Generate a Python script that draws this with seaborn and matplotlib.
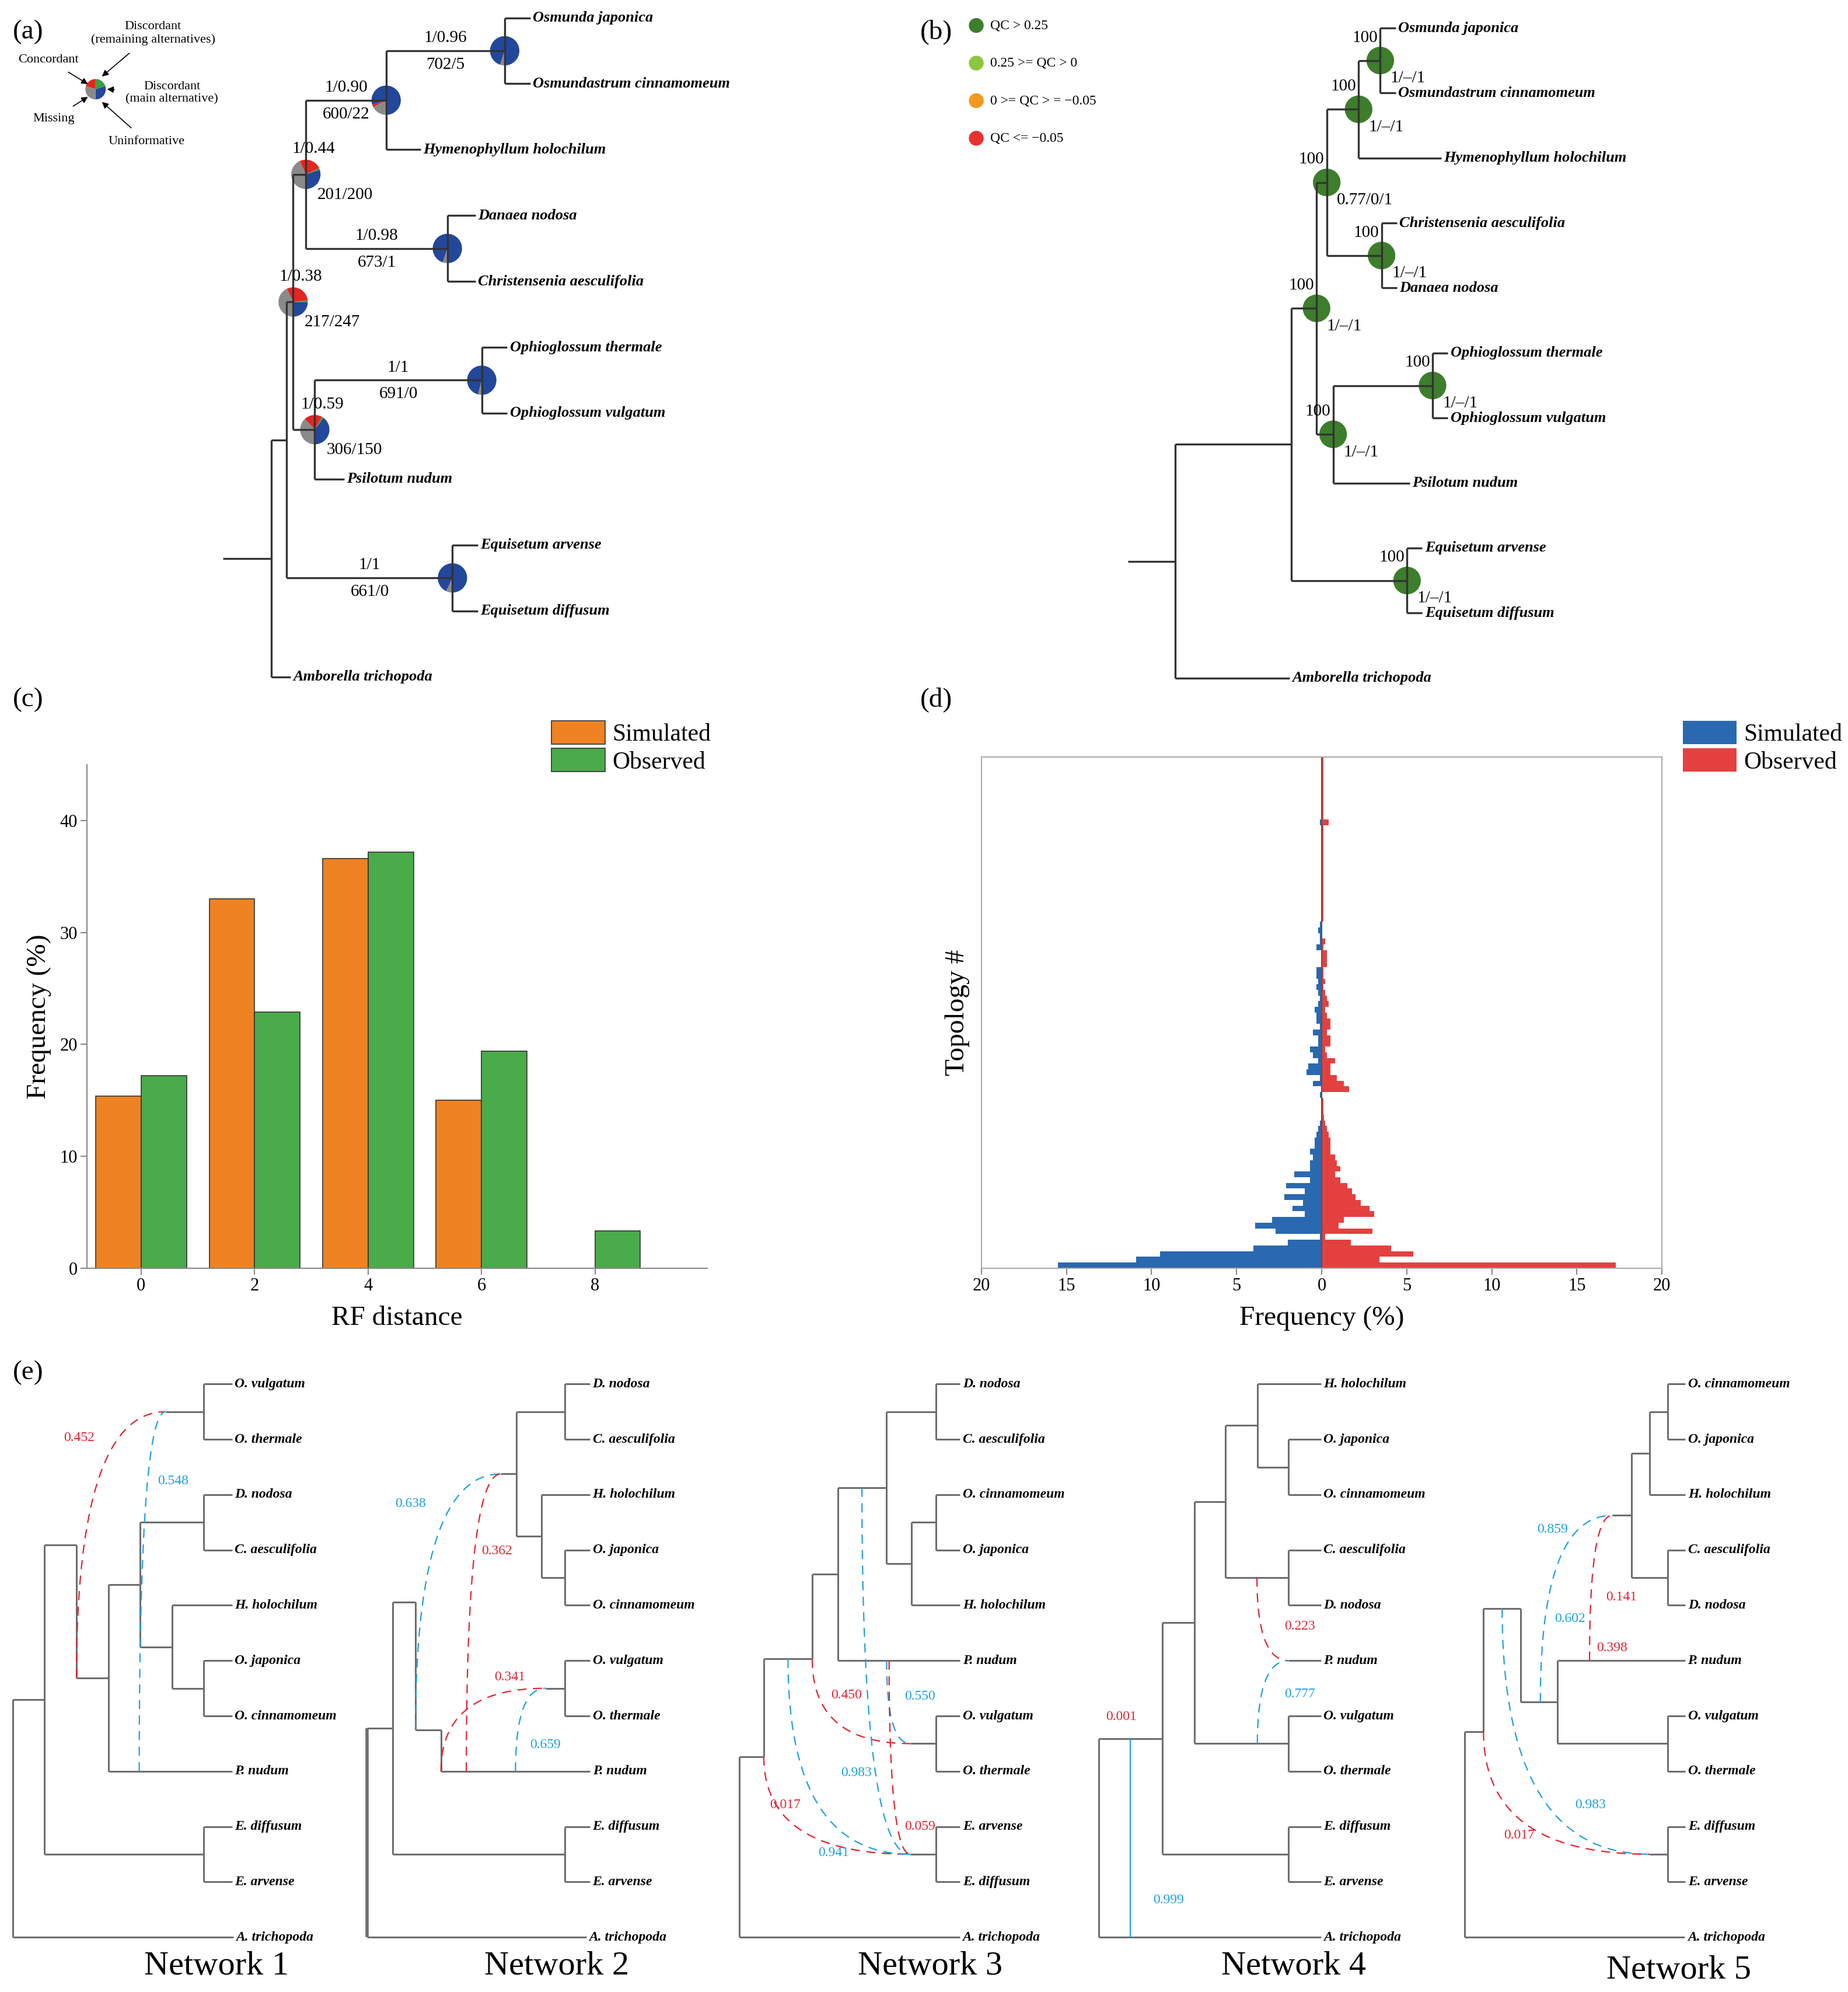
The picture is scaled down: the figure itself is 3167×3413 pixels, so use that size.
import numpy as np
import pandas as pd
import matplotlib
matplotlib.use("Agg")
import matplotlib.pyplot as plt
from matplotlib.patches import Wedge, Circle
import seaborn as sns

plt.rcParams["font.family"] = "Liberation Serif"

# ---------------- DATA ----------------
# (c) RF distance distribution
RF_DIST = ["0", "2", "4", "6", "8"]
RF_SIM = [15.4, 33.0, 36.6, 15.0, 0.0]
RF_OBS = [17.2, 22.9, 37.2, 19.4, 3.3]

# (d) topology frequencies (%), topology #1 at bottom
TOPO_SIM = [15.5, 10.9, 9.5, 4.0, 2.0, 0.1, 2.7, 3.9, 2.9, 1.0,
            1.7, 1.1, 2.2, 1.0, 2.1, 0.7, 1.6, 0.7, 0.7, 0.5,
            0.7, 0.4, 0.4, 0.3, 0.2, 0.1, 0, 0, 0, 0,
            0.1, 0, 0.5, 0.1, 0.9, 0.8, 0.2, 0.5, 0.7, 0.2,
            0.2, 0.5, 0.1, 0.3, 0.3, 0.4, 0.2, 0.1, 0.2, 0.3,
            0.2, 0.3, 0.3, 0, 0, 0, 0.3, 0.1, 0.1, 0.2,
            0.1, 0, 0, 0, 0, 0, 0, 0, 0, 0,
            0, 0, 0, 0, 0, 0, 0, 0, 0.1, 0,
            0, 0, 0, 0, 0, 0, 0, 0, 0, 0]
TOPO_OBS = [17.3, 3.4, 5.4, 4.1, 1.7, 0.2, 3.0, 1.0, 1.3, 3.1,
            2.8, 2.3, 2.0, 1.8, 1.5, 1.1, 0.8, 1.1, 0.9, 0.8,
            0.5, 0.5, 0.5, 0.4, 0.3, 0.2, 0.15, 0.1, 0.1, 0.1,
            0, 1.6, 1.3, 0.9, 0.5, 0.5, 0.8, 0.3, 0.2, 0.5,
            0.5, 0.3, 0.5, 0.5, 0.3, 0.2, 0.4, 0.3, 0.2, 0.1,
            0.2, 0.1, 0.1, 0.3, 0.3, 0.3, 0.1, 0.2, 0, 0,
            0, 0.1, 0.1, 0.1, 0.1, 0.1, 0.1, 0.1, 0.1, 0.1,
            0.1, 0.1, 0.1, 0.1, 0.1, 0.1, 0.1, 0.1, 0.4, 0.1,
            0.1, 0.1, 0.1, 0.1, 0.1, 0.1, 0.1, 0.1, 0.1, 0.1]
D_TICKS = [-20, -15, -10, -5, 0, 5, 10, 15, 20]

# (a) species tree with branch lengths (name, length, children)
TREE_A = ("rootA", 0, [
    ("A", 12, [
        ("B", 5, [
            ("C", 10, [
                ("E", 63, [
                    ("Osm", 93, [("Osmunda japonica", 20, None), ("Osmundastrum cinnamomeum", 20, None)]),
                    ("Hymenophyllum holochilum", 27, None)]),
                ("Mar", 111, [("Danaea nodosa", 22, None), ("Christensenia aesculifolia", 22, None)])]),
            ("D", 17, [
                ("Oph", 131, [("Ophioglossum thermale", 20, None), ("Ophioglossum vulgatum", 20, None)]),
                ("Psilotum nudum", 23, None)])]),
        ("Equ", 130, [("Equisetum arvense", 20, None), ("Equisetum diffusum", 20, None)])]),
    ("Amborella trichopoda", 15, None)])
SUPPORT_A = {"Osm": ("1/0.96", "702/5"), "E": ("1/0.90", "600/22"), "C": ("1/0.44", "201/200"),
             "Mar": ("1/0.98", "673/1"), "B": ("1/0.38", "217/247"), "Oph": ("1/1", "691/0"),
             "D": ("1/0.59", "306/150"), "Equ": ("1/1", "661/0")}
# pie fractions: concordant, discordant main, discordant remaining, uninformative
PIE_A = {"Osm": [0.95, 0.0, 0.0, 0.05], "E": [0.80, 0.0, 0.03, 0.17], "C": [0.30, 0.02, 0.25, 0.43],
         "Mar": [0.95, 0.0, 0.0, 0.05], "B": [0.25, 0.02, 0.30, 0.43], "Oph": [0.96, 0.0, 0.0, 0.04],
         "D": [0.40, 0.02, 0.20, 0.38], "Equ": [0.93, 0.0, 0.0, 0.07]}
PIE_LEGEND = [0.30, 0.20, 0.20, 0.30]

# (b) species tree
TREE_B = ("rootB", 0, [
    ("A", 91, [
        ("B", 20, [
            ("C", 8, [
                ("E", 25, [
                    ("Osm", 17, [("Osmunda japonica", 12, None), ("Osmundastrum cinnamomeum", 12, None)]),
                    ("Hymenophyllum holochilum", 65, None)]),
                ("Mar", 43, [("Christensenia aesculifolia", 12, None), ("Danaea nodosa", 12, None)])]),
            ("D", 13, [
                ("Oph", 78, [("Ophioglossum thermale", 12, None), ("Ophioglossum vulgatum", 12, None)]),
                ("Psilotum nudum", 60, None)])]),
        ("Equ", 91, [("Equisetum arvense", 12, None), ("Equisetum diffusum", 12, None)])]),
    ("Amborella trichopoda", 90, None)])
SUPPORT_B = {"Osm": ("100", "1/\u2013/1"), "E": ("100", "1/\u2013/1"), "C": ("100", "0.77/0/1"),
             "Mar": ("100", "1/\u2013/1"), "B": ("100", "1/\u2013/1"), "Oph": ("100", "1/\u2013/1"),
             "D": ("100", "1/\u2013/1"), "Equ": ("100", "1/\u2013/1")}
QC_LABELS = ["QC > 0.25", "0.25 >= QC > 0", "0 >= QC > = \u22120.05", "QC <= \u22120.05"]

# (e) networks
NET1 = ("r", 0, [("N", 25, [("P", 25, [("Oph", 100, [("O. vulgatum", 22, None), ("O. thermale", 22, None)]),
    ("Q", 25, [("R", 25, [("DC", 50, [("D. nodosa", 22, None), ("C. aesculifolia", 22, None)]),
        ("S", 25, [("H. holochilum", 47, None), ("JC", 25, [("O. japonica", 22, None), ("O. cinnamomeum", 22, None)])])]),
        ("P. nudum", 97, None)])]),
    ("Equ", 125, [("E. diffusum", 22, None), ("E. arvense", 22, None)])]), ("A. trichopoda", 173, None)])
NET1_HYB = {"Oph": 30}
NET1_RET = [("Q", 0.0, "Oph", "r", "0.452"), ("P. nudum", 0.25, "Oph", "b", "0.548")]

NET2 = ("r", 0, [("N", 20, [("P", 18, [("M", 79, [("DC", 38, [("D. nodosa", 20, None), ("C. aesculifolia", 20, None)]),
    ("HJC", 20, [("H. holochilum", 38, None), ("JC", 18, [("O. japonica", 20, None), ("O. cinnamomeum", 20, None)])])]),
    ("Q", 20, [("Oph", 97, [("O. vulgatum", 20, None), ("O. thermale", 20, None)]), ("P. nudum", 117, None)])]),
    ("Equ", 135, [("E. diffusum", 20, None), ("E. arvense", 20, None)])]), ("A. trichopoda", 172, None)])
NET2_HYB = {"M": 12, "Oph": 15}
NET2_RET = [("Q", 0.0, "M", "b", "0.638"), ("P. nudum", 0.17, "M", "r", "0.362"),
            ("P. nudum", 0.0, "Oph", "r", "0.341"), ("P. nudum", 0.5, "Oph", "b", "0.659")]

NET3 = ("r", 0, [("N", 19, [("P", 38, [("Q", 20, [("R", 38, [("DC", 39, [("D. nodosa", 19, None), ("C. aesculifolia", 19, None)]),
    ("S", 20, [("CJ", 19, [("O. cinnamomeum", 19, None), ("O. japonica", 19, None)]), ("H. holochilum", 38, None)])]),
    ("P. nudum", 96, None)]), ("Oph", 97, [("O. vulgatum", 19, None), ("O. thermale", 19, None)])]),
    ("Equ", 135, [("E. arvense", 19, None), ("E. diffusum", 19, None)])]), ("A. trichopoda", 173, None)])
NET3_HYB = {"Oph": 20, "Equ": 20}
NET3_RET = [("P", 1.0, "Oph", "r", "0.450"), ("P. nudum", 0.4, "Oph", "b", "0.550"),
            ("R", 0.5, "Equ", "b", "0.983"), ("N", 1.0, "Equ", "r", "0.017"),
            ("P. nudum", 0.42, "Equ", "r", "0.059"), ("P", 0.5, "Equ", "b", "0.941")]

NET4 = ("r", 0, [("N", 50, [("P", 25, [("M", 24.5, [("K", 25, [("H. holochilum", 50, None),
    ("JC", 24.5, [("O. japonica", 25.5, None), ("O. cinnamomeum", 25.5, None)])]),
    ("DC", 49.5, [("C. aesculifolia", 25.5, None), ("D. nodosa", 25.5, None)])]),
    ("P. nudum", 99.5, None), ("Oph", 74, [("O. vulgatum", 25.5, None), ("O. thermale", 25.5, None)])]),
    ("Equ", 99, [("E. diffusum", 25.5, None), ("E. arvense", 25.5, None)])]), ("A. trichopoda", 174.5, None)])
NET4_HYB = {"P. nudum": 25.5}
NET4_RET = [("DC", 0.5, "P. nudum", "r", "0.223"), ("Oph", 0.67, "P. nudum", "b", "0.777"),
            ("N", 0.5, "A. trichopoda", "b", "0.999")]
NET4_EXTRA = ["0.001"]

NET5 = ("r", 0, [("N", 15, [("P", 29.3, [("M", 86.7, [("K", 14.4, [("CJ", 14, [("O. cinnamomeum", 14, None),
    ("O. japonica", 14, None)]), ("H. holochilum", 28, None)]),
    ("DC", 28.4, [("C. aesculifolia", 14, None), ("D. nodosa", 14, None)])]),
    ("Q", 28.9, [("P. nudum", 100, None), ("Oph", 86.2, [("O. vulgatum", 14, None), ("O. thermale", 14, None)])])]),
    ("Equ", 144.4, [("E. diffusum", 14, None), ("E. arvense", 14, None)])]), ("A. trichopoda", 173, None)])
NET5_HYB = {"M": 15, "Equ": 14}
NET5_RET = [("Q", 0.53, "M", "b", "0.859"), ("P. nudum", 0.25, "M", "r", "0.141"),
            ("P", 0.5, "Equ", "b", "0.983"), ("N", 1.0, "Equ", "r", "0.017")]
NET5_EXTRA = ["0.602", "0.398"]

# ---------------- STYLE / LAYOUT ----------------
W, H = 1450, 1563
RED, BLUE = "#e8212f", "#1ea0e6"
PIE_COLS = ["#23479a", "#3aa040", "#e52521", "#8a8a8a"]
QC_COLS = ["#3d7d2c", "#8cc63f", "#f39a1e", "#e8312f"]

fig = plt.figure(figsize=(31.67, 34.13), dpi=100)
ax0 = fig.add_axes([0, 0, 1, 1])
ax0.set_xlim(0, W); ax0.set_ylim(H, 0); ax0.axis("off")


def layout(tree, x0, y0, dy):
    pos, par, kids = {}, {}, {}
    cnt = [0]

    def rec(node, px, p):
        name, ln, ch = node
        x = px + ln
        if ch is None:
            y = y0 + cnt[0] * dy
            cnt[0] += 1
        else:
            ys = [rec(c, x, name) for c in ch]
            kids[name] = [c[0] for c in ch]
            y = (ys[0] + ys[-1]) / 2
        pos[name] = (x, y)
        par[name] = p
        return y
    rec(tree, x0, None)
    return pos, par, kids


def draw_tree(tree, x0, y0, dy, hidden=None, color="#333", lw=2.4, fs=20, stem=0, root_lw=None):
    hidden = hidden or {}
    pos, par, kids = layout(tree, x0, y0, dy)
    for n, (x, y) in pos.items():
        p = par[n]
        if p is None:
            if stem:
                ax0.plot([x - stem, x], [y, y], color=color, lw=lw, solid_capstyle="butt")
            continue
        px = pos[p][0]
        start = x - hidden[n] if n in hidden else px
        ax0.plot([start, x], [y, y], color=color, lw=lw, solid_capstyle="butt")
    for n, ch in kids.items():
        ys = [pos[c][1] for c in ch if c not in hidden] + [pos[n][1]]
        w = root_lw if (par[n] is None and root_lw) else lw
        ax0.plot([pos[n][0]] * 2, [min(ys), max(ys)], color=color, lw=w, solid_capstyle="butt")
        for c in ch:
            if c not in kids:
                cx, cy = pos[c]
                ax0.text(cx + 2, cy, c, fontsize=fs, style="italic", weight="bold",
                         ha="left", va="center")
    return pos, par


def stem_pt(pos, par, n, t):
    px = pos[par[n]][0]
    x, y = pos[n]
    return px + t * (x - px), y


def pie(cx, cy, r, fr):
    ang = 90
    for f, c in zip(fr, PIE_COLS):
        if f <= 0:
            continue
        ax0.add_patch(Wedge((cx, cy), r, ang - f * 360, ang, facecolor=c, edgecolor="none"))
        ang -= f * 360

# ---------------- (a) ----------------
pos, par = draw_tree(TREE_A, 213, 14, 51.7, stem=38, fs=19)
for n, (t, b) in SUPPORT_A.items():
    x, y = pos[n]
    px = pos[par[n]][0]
    if x - px < 30:
        ax0.text(x - 11, y - 14, t, fontsize=21, ha="left", va="bottom")
        ax0.text(x + 9, y + 10, b, fontsize=21, ha="left", va="top")
    else:
        ax0.text((x + px) / 2, y - 4, t, fontsize=21, ha="center", va="bottom")
        ax0.text((x + px) / 2, y + 5, b, fontsize=21, ha="center", va="top")
    pie(x, y, 11.5, PIE_A[n])
pie(75, 70, 8, PIE_LEGEND)
for txt, tx, ty, ax_, ay in [("Discordant\n(remaining alternatives)", 120, 26, 80, 60),
                             ("Concordant", 38, 47, 69, 66),
                             ("Discordant\n(main alternative)", 135, 73, 84, 70),
                             ("Missing", 42, 93, 69, 76),
                             ("Uninformative", 115, 111, 80, 80)]:
    ax0.annotate(txt, xy=(ax_, ay), xytext=(tx, ty), fontsize=16, ha="center", va="center",
                 arrowprops=dict(arrowstyle="-|>", color="black", lw=1.2, shrinkA=12, shrinkB=0))
ax0.text(10, 25, "(a)", fontsize=34, va="center")

# ---------------- (b) ----------------
pos, par = draw_tree(TREE_B, 922, 22, 51, stem=37, fs=19)
for n, (t, b) in SUPPORT_B.items():
    x, y = pos[n]
    ax0.text(x - 2, y - 12, t, fontsize=21, ha="right", va="bottom")
    ax0.text(x + 8, y + 8, b, fontsize=21, ha="left", va="top")
    ax0.add_patch(Circle((x, y), 10.5, color=QC_COLS[0]))
for i, (lab, c) in enumerate(zip(QC_LABELS, QC_COLS)):
    yy = 20 + i * 29.5
    ax0.add_patch(Circle((766, yy), 5.5, color=c))
    ax0.text(777, yy, lab, fontsize=17, va="center")
ax0.text(722, 25, "(b)", fontsize=34, va="center")

# ---------------- (e) networks ----------------
NETS = [(NET1, NET1_HYB, NET1_RET, 10), (NET2, NET2_HYB, NET2_RET, 288), (NET3, NET3_HYB, NET3_RET, 580.3),
        (NET4, NET4_HYB, NET4_RET, 862), (NET5, NET5_HYB, NET5_RET, 1149)]
RET_LABEL_POS = [
    [(62, 1128), (136, 1162)],
    [(322, 1180), (390, 1217), (400, 1316), (428, 1369)],
    [(664, 1330), (722, 1331), (672, 1391), (616, 1416), (722, 1433), (654, 1454)],
    [(1020, 1276), (1020, 1329), (917, 1491)],
    [(1218, 1200), (1272, 1253), (1248, 1416), (1192, 1440)],
]
EXTRA_POS = {3: [((880, 1347), "r")], 4: [((1232, 1270), "b"), ((1265, 1293), "r")]}
EXTRA_TXT = {3: NET4_EXTRA, 4: NET5_EXTRA}
NET_TITLE_POS = [(170, 1543), (437, 1543), (730, 1543), (1015, 1543), (1317, 1546)]
for k, (tree, hyb, rets, x0) in enumerate(NETS):
    pos, par = draw_tree(tree, x0, 1086, 43.4, hidden=hyb, color="#6e6e6e", lw=2.2, fs=17,
                         root_lw=(4 if k == 1 else None))
    for (src, t, dst, col, lab), lp in zip(rets, RET_LABEL_POS[k]):
        c = RED if col == "r" else BLUE
        sx, sy = stem_pt(pos, par, src, t)
        if dst == "A. trichopoda":
            ax0.plot([sx, sx], [sy, pos[dst][1]], color=c, lw=1.6)
        else:
            dx = pos[dst][0] - hyb[dst]
            dy_ = pos[dst][1]
            tt = np.linspace(0, 1, 60)[:, None]
            S, C, D = np.array([sx, sy]), np.array([sx, dy_]), np.array([dx, dy_])
            pts = (1 - tt) ** 2 * S + 2 * (1 - tt) * tt * C + tt ** 2 * D
            ax0.plot(pts[:, 0], pts[:, 1], color=c, lw=1.6, ls=(0, (7, 5)))
        ax0.text(lp[0], lp[1], lab, color=c, fontsize=17, ha="center", va="center")
    for (p, col), txt in zip(EXTRA_POS.get(k, []), EXTRA_TXT.get(k, [])):
        ax0.text(p[0], p[1], txt, color=RED if col == "r" else BLUE, fontsize=17, ha="center", va="center")
    tx, ty = NET_TITLE_POS[k]
    ax0.text(tx, ty, f"Network {k + 1}", fontsize=42, ha="center", va="center")
ax0.text(10, 1077, "(e)", fontsize=34, va="center")
ax0.text(10, 549, "(c)", fontsize=34, va="center")
ax0.text(722, 549, "(d)", fontsize=34, va="center")


def fax(x1, y1, x2, y2):
    return fig.add_axes([x1 / W, 1 - y2 / H, (x2 - x1) / W, (y2 - y1) / H])

# ---------------- (c) ----------------
axc = fax(68, 600, 555, 995)
df = pd.DataFrame({"RF": RF_DIST * 2, "Frequency": RF_SIM + RF_OBS,
                   "Source": ["Simulated"] * 5 + ["Observed"] * 5})
sns.barplot(data=df, x="RF", y="Frequency", hue="Source", palette=["#ef8222", "#4aab4a"],
            saturation=1, width=0.8, edgecolor="#333", linewidth=1.2, ax=axc)
axc.set_xlim(-0.48, 4.99); axc.set_ylim(0, 45)
axc.set_yticks([0, 10, 20, 30, 40])
for s in ["top", "right"]:
    axc.spines[s].set_visible(False)
for s in ["left", "bottom"]:
    axc.spines[s].set_color("#888"); axc.spines[s].set_linewidth(1.5)
axc.tick_params(labelsize=22, color="#888", length=8, width=1.5)
axc.set_xlabel("RF distance", fontsize=34, labelpad=14)
axc.set_ylabel("Frequency (%)", fontsize=34, labelpad=10)
axc.legend(loc="upper left", bbox_to_anchor=(425 / W, 1 - 558 / H), bbox_transform=fig.transFigure,
           frameon=False, fontsize=30, handlelength=2.2, handleheight=1.1, borderaxespad=0,
           labelspacing=0.1, handletextpad=0.3)

# ---------------- (d) ----------------
axd = fax(770, 594, 1304, 995)
idx = np.arange(1, len(TOPO_SIM) + 1)
axd.barh(idx, [-v for v in TOPO_SIM], height=1.0, color="#2a68b0", label="Simulated")
axd.barh(idx, TOPO_OBS, height=1.0, color="#e54040", label="Observed")
axd.axvline(0, color="#555", lw=1.5)
axd.set_xlim(-20, 20); axd.set_ylim(0.5, len(TOPO_SIM) + 0.5)
axd.set_xticks(D_TICKS); axd.set_xticklabels([str(abs(v)) for v in D_TICKS])
axd.set_yticks([])
for s in axd.spines.values():
    s.set_color("#aaa"); s.set_linewidth(1.5)
axd.tick_params(labelsize=22, color="#888", length=8, width=1.5)
axd.set_xlabel("Frequency (%)", fontsize=34, labelpad=14)
axd.set_ylabel("Topology #", fontsize=34, labelpad=14)
axd.legend(loc="upper left", bbox_to_anchor=(1313 / W, 1 - 558 / H), bbox_transform=fig.transFigure,
           frameon=False, fontsize=30, handlelength=2.2, handleheight=1.1, borderaxespad=0,
           labelspacing=0.1, handletextpad=0.3)

fig.savefig("out.png", dpi=100)
